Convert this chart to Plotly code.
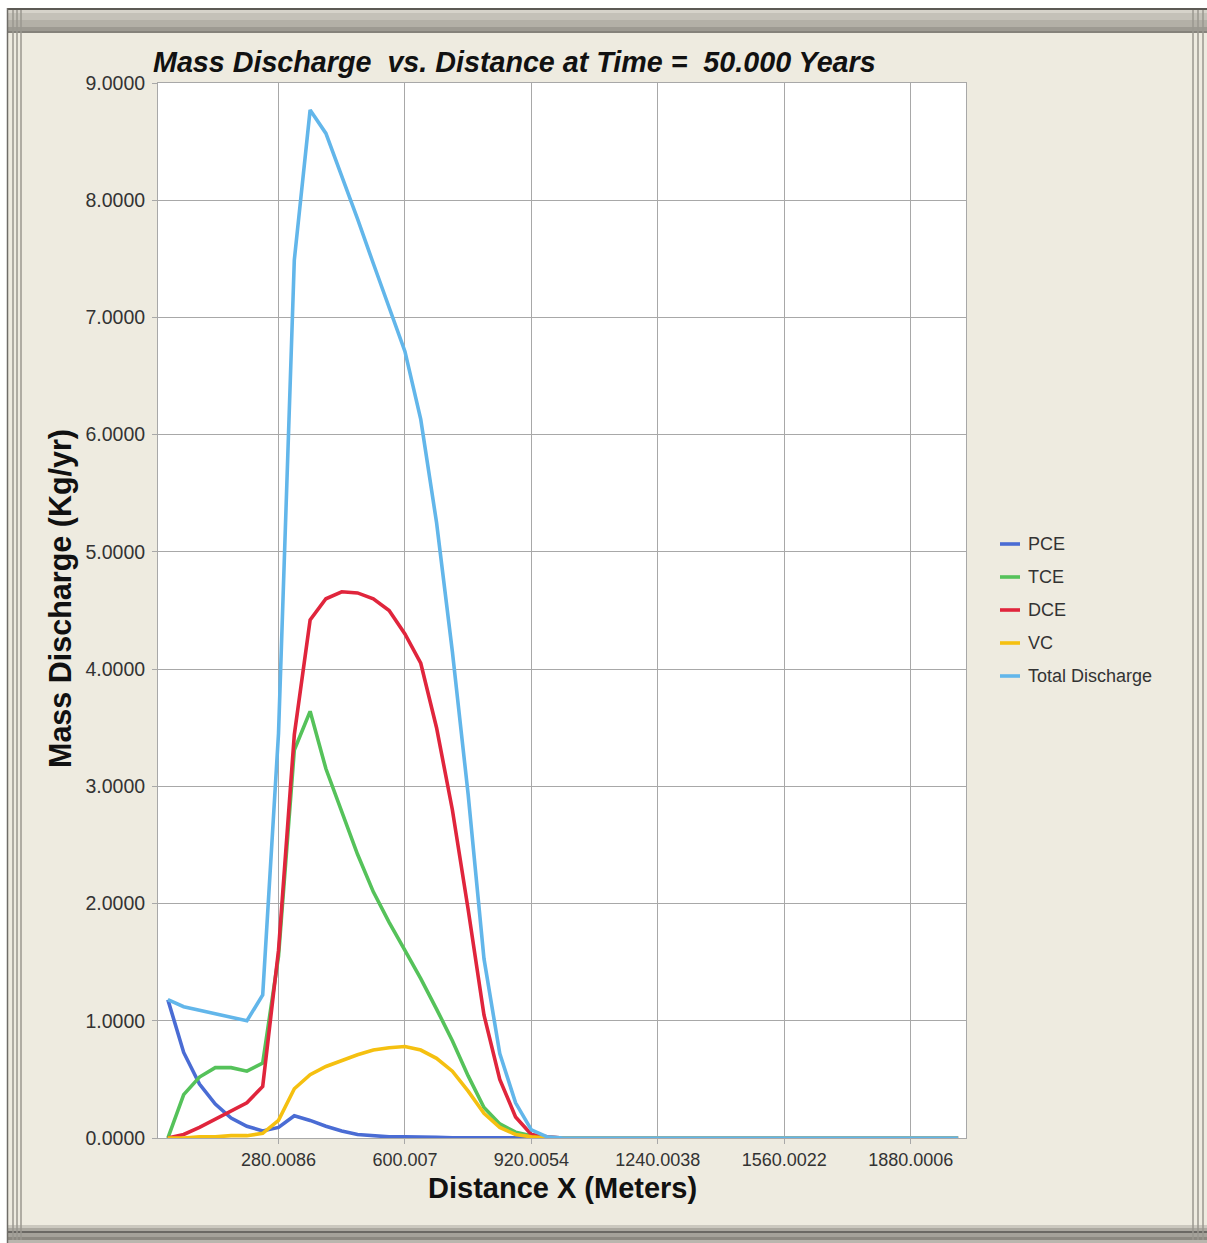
import plotly.graph_objects as go

# Distance along the flow path (m)
distance_m = [0, 40, 80, 120, 160, 200, 240, 280, 320, 360, 400, 440, 480, 520, 560,
              600, 640, 680, 720, 760, 800, 840, 880, 920, 960, 1000, 1040, 1080, 1120,
              1160, 1200, 1240, 1280, 1320, 1360, 1400, 1440, 1480, 1520, 1560, 1600,
              1640, 1680, 1720, 1760, 1800, 1840, 1880, 1920, 1960, 2000]

# Mass discharge (kg/yr) per compound at t = 50 yr
pce = [1.18, 0.73, 0.46, 0.29, 0.17, 0.10, 0.06, 0.09, 0.19, 0.15, 0.10, 0.06, 0.03,
       0.02, 0.01, 0.01, 0.01, 0.005, 0.002, 0.001, 0.0, 0.0, 0.0, 0.0, 0.0,
       0.0, 0.0, 0.0, 0.0, 0.0, 0.0, 0.0, 0.0, 0.0, 0.0, 0.0, 0.0, 0.0, 0.0,
       0.0, 0.0, 0.0, 0.0, 0.0, 0.0, 0.0, 0.0, 0.0, 0.0, 0.0, 0.0]
tce = [0.0, 0.37, 0.52, 0.60, 0.60, 0.57, 0.64, 1.55, 3.31, 3.64, 3.15, 2.78, 2.42,
       2.10, 1.84, 1.60, 1.36, 1.10, 0.83, 0.53, 0.26, 0.12, 0.05, 0.02, 0.005,
       0.0, 0.0, 0.0, 0.0, 0.0, 0.0, 0.0, 0.0, 0.0, 0.0, 0.0, 0.0, 0.0, 0.0,
       0.0, 0.0, 0.0, 0.0, 0.0, 0.0, 0.0, 0.0, 0.0, 0.0, 0.0, 0.0]
dce = [0.0, 0.03, 0.09, 0.16, 0.23, 0.30, 0.44, 1.60, 3.44, 4.42, 4.60, 4.66, 4.65,
       4.60, 4.50, 4.30, 4.05, 3.50, 2.80, 1.95, 1.05, 0.50, 0.18, 0.03, 0.01,
       0.0, 0.0, 0.0, 0.0, 0.0, 0.0, 0.0, 0.0, 0.0, 0.0, 0.0, 0.0, 0.0, 0.0,
       0.0, 0.0, 0.0, 0.0, 0.0, 0.0, 0.0, 0.0, 0.0, 0.0, 0.0, 0.0]
vc = [0.0, 0.0, 0.01, 0.01, 0.02, 0.02, 0.04, 0.15, 0.42, 0.54, 0.61, 0.66, 0.71,
      0.75, 0.77, 0.78, 0.75, 0.68, 0.57, 0.40, 0.21, 0.09, 0.03, 0.01, 0.0,
      0.0, 0.0, 0.0, 0.0, 0.0, 0.0, 0.0, 0.0, 0.0, 0.0, 0.0, 0.0, 0.0, 0.0,
      0.0, 0.0, 0.0, 0.0, 0.0, 0.0, 0.0, 0.0, 0.0, 0.0, 0.0, 0.0]
total = [1.18, 1.12, 1.09, 1.06, 1.03, 1.00, 1.22, 3.45, 7.49, 8.77, 8.57, 8.21, 7.84,
         7.46, 7.08, 6.71, 6.13, 5.25, 4.15, 2.93, 1.53, 0.72, 0.30, 0.07, 0.01,
         0.0, 0.0, 0.0, 0.0, 0.0, 0.0, 0.0, 0.0, 0.0, 0.0, 0.0, 0.0, 0.0, 0.0,
         0.0, 0.0, 0.0, 0.0, 0.0, 0.0, 0.0, 0.0, 0.0, 0.0, 0.0, 0.0]

series_names = ["PCE", "TCE", "DCE", "VC", "Total Discharge"]
series_values = [pce, tce, dce, vc, total]
series_colors = ["#4A6CD4", "#55C25A", "#E0253C", "#F5C010", "#62B6EA"]

x_tick_vals = [280.0086, 600.007, 920.0054, 1240.0038, 1560.0022, 1880.0006]
x_tick_text = ["280.0086", "600.007", "920.0054", "1240.0038", "1560.0022", "1880.0006"]
y_tick_vals = [0, 1, 2, 3, 4, 5, 6, 7, 8, 9]

W, H = 1207, 1243
ML, MR, MT, MB = 158, 241, 83, 105
PW, PH = W - ML - MR, H - MT - MB

FRAME_BG = "#EEEBE0"
FONT = "Liberation Sans, Arial, sans-serif"


def px(xp):
    return (xp - ML) / PW


def py(yp):
    return (H - MB - yp) / PH


fig = go.Figure()
for name, vals, col in zip(series_names, series_values, series_colors):
    fig.add_trace(go.Scatter(x=distance_m, y=vals, mode="lines", name=name,
                             line=dict(color=col, width=3.6), showlegend=False))

shapes = []


def rect(x0, y0, x1, y1, color):
    shapes.append(dict(type="rect", xref="paper", yref="paper",
                       x0=px(x0), x1=px(x1), y0=py(y0), y1=py(y1),
                       fillcolor=color, line=dict(width=0), layer="below"))


def vline(x, y0, y1, color, width=1):
    shapes.append(dict(type="line", xref="paper", yref="paper",
                       x0=px(x), x1=px(x), y0=py(y0), y1=py(y1),
                       line=dict(color=color, width=width), layer="below"))


# window chrome: outside strips, title bar, bottom bar, side grips
rect(0, 0, W, 8, "white")
rect(0, 0, 7, H, "white")
rect(7, 8, W, 10, "#5C5A55")
rect(7, 10, W, 13, "#D6D3CA")
rect(7, 13, W, 20, "#C4C1B8")
rect(7, 20, W, 27, "#B3B0A7")
rect(7, 27, W, 31, "#9D9A92")
rect(7, 31, W, 33, "#85827B")
rect(7, 1225, W, 1228, "#CBC8BF")
rect(7, 1228, W, 1231, "#ABA8A0")
rect(7, 1231, W, 1233, "#6B6964")
rect(7, 1233, W, 1237, "#A5A29A")
rect(7, 1237, W, 1240, "#8C8981")
rect(7, 1240, W, H, "#B9B6AE")
vline(7.5, 8, H, "#6F6D68", 1.5)
for gx in (13, 17, 21, 1193, 1198, 1203):
    vline(gx, 10, 1240, "#9A978F", 1.5)

# legend entries
for i, (name, col) in enumerate(zip(series_names, series_colors)):
    yy = 544 + 33 * i
    shapes.append(dict(type="line", xref="paper", yref="paper",
                       x0=px(1000), x1=px(1020), y0=py(yy), y1=py(yy),
                       line=dict(color=col, width=3.6)))

annotations = []
for i, name in enumerate(series_names):
    yy = 544 + 33 * i
    annotations.append(dict(xref="paper", yref="paper", x=px(1026), y=py(yy),
                            text=name, showarrow=False, xanchor="left", yanchor="middle",
                            font=dict(family=FONT, size=18, color="#333333")))

annotations.append(dict(xref="paper", yref="paper", x=px(60), y=py(599),
                        text="<b>Mass Discharge (Kg/yr)</b>", textangle=-90,
                        showarrow=False, xanchor="center", yanchor="middle",
                        font=dict(family=FONT, size=30.5, color="#111111")))
annotations.append(dict(xref="paper", yref="paper", x=px(562), y=py(1188),
                        text="<b>Distance X (Meters)</b>",
                        showarrow=False, xanchor="center", yanchor="middle",
                        font=dict(family=FONT, size=29, color="#111111")))
annotations.append(dict(xref="paper", yref="paper", x=px(151), y=py(62),
                        text="<b><i>Mass Discharge  vs. Distance at Time =  50.000 Years</i></b>",
                        showarrow=False, xanchor="left", yanchor="middle",
                        font=dict(family=FONT, size=28.7, color="#111111")))

axis_common = dict(showgrid=True, gridcolor="#A8A8A8", gridwidth=1,
                   showline=True, linecolor="#A8A8A8", linewidth=1, mirror=True,
                   ticks="outside", ticklen=5, tickcolor="#A8A8A8",
                   zeroline=False)

fig.update_layout(
    width=W, height=H,
    margin=dict(l=ML, r=MR, t=MT, b=MB),
    paper_bgcolor=FRAME_BG, plot_bgcolor="white",
    xaxis=dict(range=[-25, 2020], tickvals=x_tick_vals, ticktext=x_tick_text,
               tickfont=dict(family=FONT, size=18, color="#333333"), **axis_common),
    yaxis=dict(range=[0, 9], tickvals=y_tick_vals, tickformat=".4f",
               ticklabelstandoff=3,
               tickfont=dict(family=FONT, size=19.5, color="#333333"), **axis_common),
    shapes=shapes, annotations=annotations,
    showlegend=False,
)

fig.write_html("out.html")
